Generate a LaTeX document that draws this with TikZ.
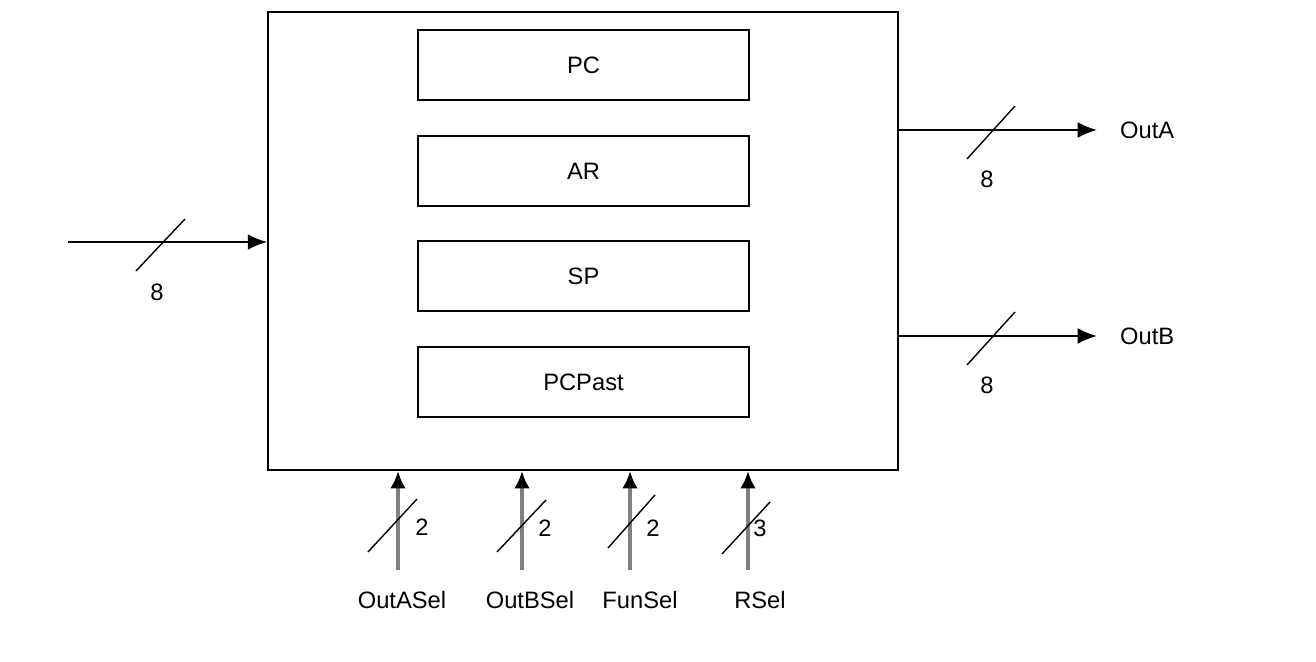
\documentclass[tikz,border=0pt]{standalone}
\usepackage{fontspec}
\setmainfont{Liberation Sans}
\usetikzlibrary{arrows.meta}

\begin{document}
\begin{tikzpicture}[x=0.02cm, y=-0.02cm, font=\fontsize{13.5}{16}\selectfont]

\tikzset{
  reg/.style={draw, line width=1.1pt, minimum width=6.62cm, minimum height=1.4cm},
  bus/.style={line width=1.1pt, -{Latex[length=11pt,width=9pt]}},
  sel/.style={line width=2pt, draw=black!50, -{Latex[length=10pt,width=9pt,color=black]}},
  slash/.style={line width=0.8pt}
}

\useasboundingbox (0,0) rectangle (1316,662);

% main block
\node[draw, line width=1.1pt, minimum width=12.6cm, minimum height=9.16cm] (alu) at (583,241) {};

% registers
\node[reg] (PC) at (583.5,65) {PC};
\node[reg] (AR) at (583.5,171) {AR};
\node[reg] (SP) at (583.5,276) {SP};
\node[reg] (PCPast) at (583.5,382) {PCPast};

% input bus
\coordinate (In_l) at (68,242);
\draw[bus] (In_l) -- (alu.west |- In_l);
\draw[slash] (136,271) -- (185,219);
\node (In_w) at (157,292) {8};

% outputs
\coordinate (OutA_r) at (1097,130);
\coordinate (OutB_r) at (1097,336);
\node[anchor=west] (OutA) at (1114,130) {OutA};
\node[anchor=west] (OutB) at (1114,336) {OutB};
\draw[bus] (alu.east |- OutA_r) -- (OutA_r);
\draw[bus] (alu.east |- OutB_r) -- (OutB_r);
\draw[slash] (967,159) -- (1015,106);
\draw[slash] (967,365) -- (1015,312);
\node (OutA_w) at (987,179) {8};
\node (OutB_w) at (987,385) {8};

% select lines
\coordinate (OutASel_b) at (398,570);
\coordinate (OutBSel_b) at (522,570);
\coordinate (FunSel_b) at (630,570);
\coordinate (RSel_b) at (748,570);

\draw[sel] (OutASel_b) -- (OutASel_b |- alu.south);
\draw[sel] (OutBSel_b) -- (OutBSel_b |- alu.south);
\draw[sel] (FunSel_b) -- (FunSel_b |- alu.south);
\draw[sel] (RSel_b) -- (RSel_b |- alu.south);

\draw[slash] (368,552) -- (417,499);
\draw[slash] (497,552) -- (546,500);
\draw[slash] (608,548) -- (655,495);
\draw[slash] (722,554) -- (770,502);

\node (OutASel_w) at (422,527) {2};
\node (OutBSel_w) at (545,528) {2};
\node (FunSel_w) at (653,528) {2};
\node (RSel_w) at (760,528) {3};

\node (OutASel) at (402,600) {OutASel};
\node (OutBSel) at (530,600) {OutBSel};
\node (FunSel) at (640,600) {FunSel};
\node (RSel) at (760,600) {RSel};

\end{tikzpicture}
\end{document}
